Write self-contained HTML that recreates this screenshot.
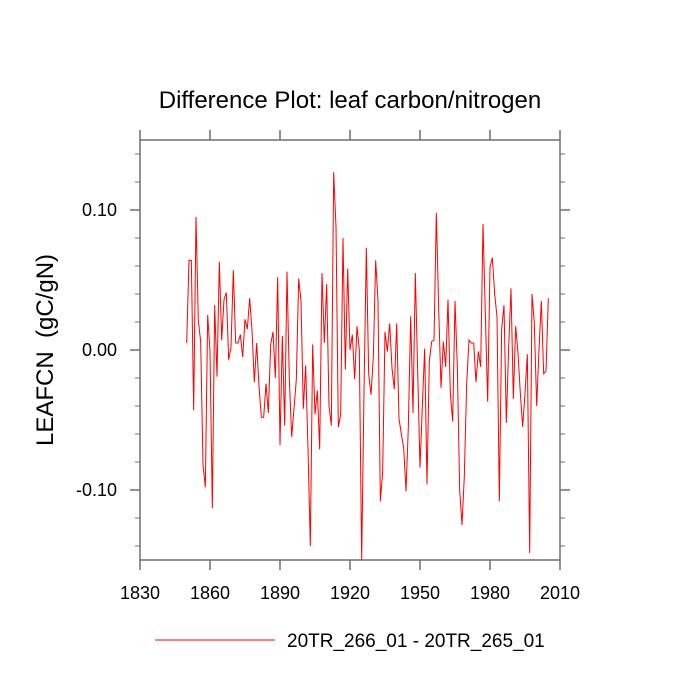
<!DOCTYPE html>
<html><head><meta charset="utf-8"><style>
body{margin:0;background:#fff;}
svg{display:block;font-family:"Liberation Sans",sans-serif;}
</style></head><body>
<svg id="chart" width="700" height="700">
<text x="350" y="108" text-anchor="middle" font-size="24">Difference Plot: leaf carbon/nitrogen</text>
<text transform="translate(53,350) rotate(-90)" text-anchor="middle" font-size="24" xml:space="preserve">LEAFCN  (gC/gN)</text>
<g id="axes"></g>
<g id="plot"></g>
<line x1="155" y1="640" x2="275" y2="640" stroke="#ff0000" stroke-width="1"/>
<text x="287" y="647" font-size="19">20TR_266_01 - 20TR_265_01</text>
</svg>
<script>
const startYear = 1850;
const values = [
0.005,0.064,0.064,-0.043,0.095,0.021,0.006,-0.082,-0.098,0.025,
-0.001,-0.113,0.032,-0.019,0.063,0.007,0.036,0.041,-0.007,0.002,
0.057,0.005,0.005,0.011,-0.005,0.022,0.015,0.037,0.014,-0.023,
0.005,-0.026,-0.048,-0.048,-0.024,-0.045,0.004,0.013,-0.020,0.052,
-0.068,0.010,-0.054,0.056,-0.021,-0.062,-0.042,-0.021,0.051,0.035,
-0.042,-0.011,-0.071,-0.140,0.004,-0.046,-0.029,-0.071,0.055,0.005,
0.047,-0.040,-0.054,0.127,0.088,-0.055,-0.046,0.080,-0.014,0.058,
0.000,0.011,-0.021,0.017,0.000,-0.150,-0.030,0.073,-0.017,-0.032,
-0.005,0.064,0.035,-0.108,-0.087,0.013,-0.001,0.019,-0.013,-0.028,
0.019,-0.049,-0.060,-0.070,-0.101,-0.055,0.024,-0.045,0.055,-0.015,
-0.084,-0.040,0.001,-0.096,-0.008,0.006,0.007,0.098,0.030,-0.027,
0.006,-0.012,0.036,-0.031,-0.051,0.035,-0.012,-0.100,-0.125,-0.090,
-0.024,0.007,0.005,0.005,-0.023,-0.001,-0.012,0.090,0.026,-0.037,
0.059,0.066,0.040,0.024,-0.108,0.015,0.032,-0.052,0.002,0.044,
-0.035,0.017,-0.002,-0.031,-0.055,-0.031,-0.003,-0.145,0.040,0.019,
-0.040,0.000,0.035,-0.017,-0.015,0.037
];
const xTicks = [1830,1860,1890,1920,1950,1980,2010];
const yTicks = [-0.10,0.00,0.10];
const yTickLabels = ["-0.10","0.00","0.10"];
const yMinor = [-0.14,-0.12,-0.08,-0.06,-0.04,-0.02,0.02,0.04,0.06,0.08,0.12,0.14];

const L=140,R=560,T=140,B=560;
const xs = y => L + (y-1830)/(2010-1830)*(R-L);
const ys = v => B - (v+0.15)/0.30*(B-T);
const NS="http://www.w3.org/2000/svg";
const axes=document.getElementById('axes'), plot=document.getElementById('plot');
function mk(tag,attrs,parent){const e=document.createElementNS(NS,tag);for(const k in attrs)e.setAttribute(k,attrs[k]);parent.appendChild(e);return e;}
const ax="#6e6e6e";
const frame=mk('rect',{x:L,y:T,width:R-L,height:B-T,fill:'none',stroke:ax,'stroke-width':1.5},axes);


xTicks.forEach(t=>{
  const x=xs(t);
  const a=mk('line',{x1:x,y1:B,x2:x,y2:B+10,stroke:ax,'stroke-width':1.5},axes);
  
  
  const b=mk('line',{x1:x,y1:T,x2:x,y2:T-10,stroke:ax,'stroke-width':1.5},axes);
  
  
  const tx=mk('text',{x:x,y:B+39,'text-anchor':'middle','font-size':18},axes);
  tx.textContent=t;
  
  
});
yTicks.forEach((t,i)=>{
  const y=ys(t);
  const a=mk('line',{x1:L-10,y1:y,x2:L,y2:y,stroke:ax,'stroke-width':1.5},axes);
  
  
  const b=mk('line',{x1:R,y1:y,x2:R+10,y2:y,stroke:ax,'stroke-width':1.5},axes);
  
  
  const tx=mk('text',{x:L-23,y:y+6,'text-anchor':'end','font-size':18},axes);
  tx.textContent=yTickLabels[i];
  
  
});
yMinor.forEach(t=>{
  const y=ys(t);
  const a=mk('line',{x1:L-5,y1:y,x2:L,y2:y,stroke:ax,'stroke-width':1},axes);
  
  
  const b=mk('line',{x1:R,y1:y,x2:R+5,y2:y,stroke:ax,'stroke-width':1},axes);
  
  
});
const pts=values.map((v,i)=>xs(startYear+i).toFixed(2)+','+ys(v).toFixed(2)).join(' ');
const line=mk('polyline',{points:pts,fill:'none',stroke:'#ff0000','stroke-width':1,'stroke-linejoin':'miter'},plot);


</script>
</body></html>
